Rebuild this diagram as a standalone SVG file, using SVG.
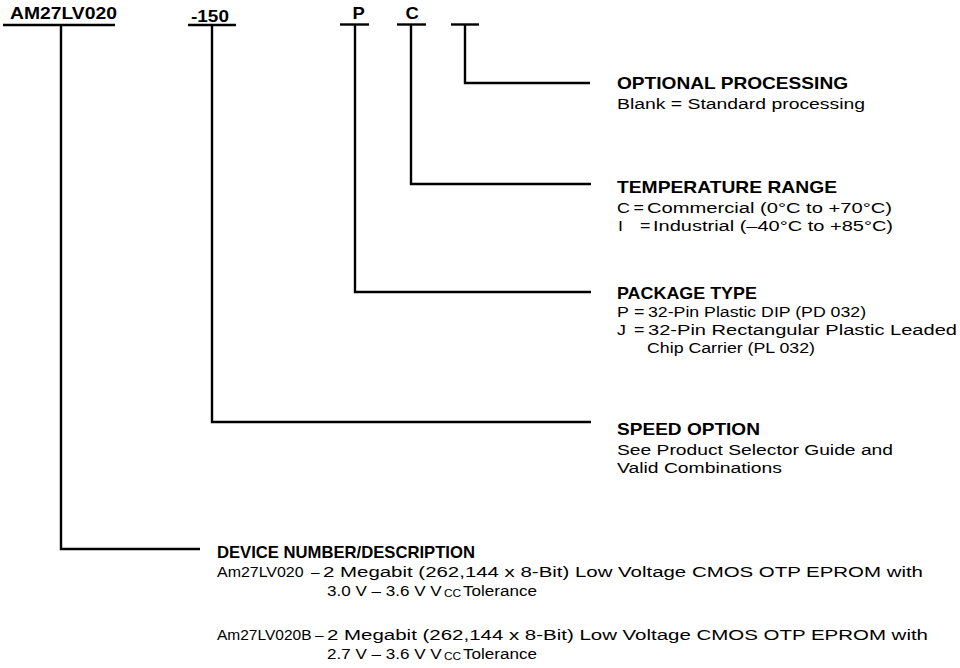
<svg xmlns="http://www.w3.org/2000/svg" width="960" height="668" viewBox="0 0 960 668">
<style>
text{font-family:"Liberation Sans",Arial,Helvetica,sans-serif;fill:#000}
.b{font-weight:bold;font-size:16px}
.r{font-size:15.5px}
.sub{font-size:11px}
.ln{fill:none;stroke:#000;stroke-width:2.4}
</style>
<rect width="960" height="668" fill="#fff"/>
<g id="code-device">
<text class="b" transform="translate(10,18.5) scale(1.15,1)" textLength="93" lengthAdjust="spacingAndGlyphs">AM27LV020</text>
<line class="ln" x1="3" y1="25" x2="115" y2="25"/>
</g>
<g id="code-speed">
<text class="b" transform="translate(191,21.5) scale(1.15,1)" textLength="33" lengthAdjust="spacingAndGlyphs">-150</text>
<line class="ln" x1="188" y1="25" x2="236" y2="25"/>
</g>
<g id="code-package">
<text class="b" transform="translate(352.5,18.5) scale(1.15,1)">P</text>
<line class="ln" x1="340" y1="24.5" x2="369" y2="24.5"/>
</g>
<g id="code-temp">
<text class="b" transform="translate(405.5,18.5) scale(1.15,1)">C</text>
<line class="ln" x1="397" y1="24.5" x2="426" y2="24.5"/>
</g>
<g id="code-optional">
<line class="ln" x1="451" y1="24.5" x2="479" y2="24.5"/>
</g>
<g id="connectors">
<path class="ln" d="M465 24.5V83H590"/>
<path class="ln" d="M411 24.5V184H591"/>
<path class="ln" d="M355 24.5V292H591"/>
<path class="ln" d="M212 25V422H591"/>
<path class="ln" d="M61 25V549H200"/>
</g>
<g id="desc-optional">
<text class="b" transform="translate(617,89) scale(1.15,1)" textLength="200.9" lengthAdjust="spacingAndGlyphs">OPTIONAL PROCESSING</text>
<text class="r" transform="translate(617,108.5) scale(1.15,1)" textLength="215.7" lengthAdjust="spacingAndGlyphs">Blank =  Standard processing</text>
</g>
<g id="desc-temp">
<text class="b" transform="translate(617,192.5) scale(1.15,1)" textLength="191.3" lengthAdjust="spacingAndGlyphs">TEMPERATURE RANGE</text>
<text class="r" transform="translate(617,212.5) scale(1.15,1)">C</text>
<text class="r" transform="translate(633.5,212.5) scale(1.15,1)">=</text>
<text class="r" transform="translate(647,212.5) scale(1.15,1)" textLength="213" lengthAdjust="spacingAndGlyphs">Commercial (0°C to +70°C)</text>
<text class="r" transform="translate(618,231) scale(1.15,1)">I</text>
<text class="r" transform="translate(640,231) scale(1.15,1)">=</text>
<text class="r" transform="translate(653,231) scale(1.15,1)" textLength="208.7" lengthAdjust="spacingAndGlyphs">Industrial (–40°C to +85°C)</text>
</g>
<g id="desc-package">
<text class="b" transform="translate(617,299) scale(1.15,1)" textLength="121.7" lengthAdjust="spacingAndGlyphs">PACKAGE TYPE</text>
<text class="r" transform="translate(617,317) scale(1.15,1)">P</text>
<text class="r" transform="translate(634,317) scale(1.15,1)">=</text>
<text class="r" transform="translate(648,317) scale(1.15,1)" textLength="189.6" lengthAdjust="spacingAndGlyphs">32-Pin Plastic DIP (PD 032)</text>
<text class="r" transform="translate(617,335) scale(1.15,1)">J</text>
<text class="r" transform="translate(634,335) scale(1.15,1)">=</text>
<text class="r" transform="translate(648,335) scale(1.15,1)" textLength="268.7" lengthAdjust="spacingAndGlyphs">32-Pin Rectangular Plastic Leaded</text>
<text class="r" transform="translate(647,353) scale(1.15,1)" textLength="146.1" lengthAdjust="spacingAndGlyphs">Chip Carrier (PL 032)</text>
</g>
<g id="desc-speed">
<text class="b" transform="translate(617,435) scale(1.15,1)" textLength="124.3" lengthAdjust="spacingAndGlyphs">SPEED OPTION</text>
<text class="r" transform="translate(617,455) scale(1.15,1)" textLength="240" lengthAdjust="spacingAndGlyphs">See Product Selector Guide and</text>
<text class="r" transform="translate(617,473) scale(1.15,1)" textLength="143.5" lengthAdjust="spacingAndGlyphs">Valid Combinations</text>
</g>
<g id="desc-device">
<text class="b" transform="translate(217,558) scale(1.15,1)" textLength="224.3" lengthAdjust="spacingAndGlyphs">DEVICE NUMBER/DESCRIPTION</text>
<text class="r" transform="translate(217,577) scale(1.03,1)">Am27LV020</text>
<text class="r" transform="translate(311,577)">–</text>
<text class="r" transform="translate(323,577) scale(1.15,1)" textLength="521.7" lengthAdjust="spacingAndGlyphs">2 Megabit (262,144 x 8-Bit) Low Voltage CMOS OTP EPROM with</text>
<text class="r" transform="translate(327,596) scale(1.1,1)">3.0 V – 3.6 V V</text>
<text class="sub" transform="translate(444,596.5) scale(1.08,1)">CC</text>
<text class="r" transform="translate(463,596) scale(1.1,1)">Tolerance</text>
<text class="r" transform="translate(217,640)">Am27LV020B</text>
<text class="r" transform="translate(315,640)">–</text>
<text class="r" transform="translate(327,640) scale(1.15,1)" textLength="522.6" lengthAdjust="spacingAndGlyphs">2 Megabit (262,144 x 8-Bit) Low Voltage CMOS OTP EPROM with</text>
<text class="r" transform="translate(327,659) scale(1.1,1)">2.7 V – 3.6 V V</text>
<text class="sub" transform="translate(444,659.5) scale(1.08,1)">CC</text>
<text class="r" transform="translate(463,659) scale(1.1,1)">Tolerance</text>
</g>
</svg>
